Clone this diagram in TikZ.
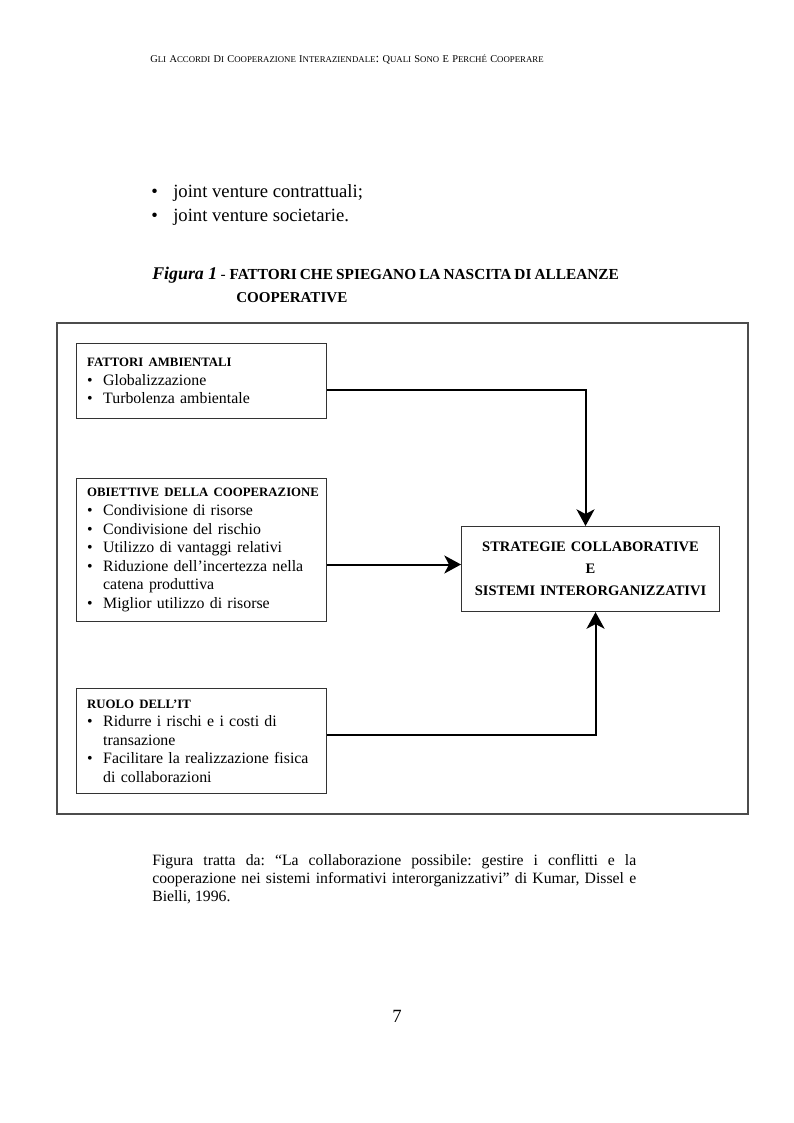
\documentclass[tikz,border=0pt]{standalone}
\usepackage{fontspec}
\setmainfont{Liberation Serif}
\usepackage{tikz}
\usetikzlibrary{positioning,arrows.meta}
\frenchspacing

\newcommand{\voce}[1]{\makebox[12pt][l]{\textbullet}#1}
\newcommand{\segue}[1]{\hspace*{12pt}#1}
\newcommand{\titolo}[1]{\mbox{\fontsize{9.6}{13.9}\selectfont\bfseries #1}}
\newcommand{\pmaiusc}[2]{{\fontsize{7.8}{9}\selectfont #1}{\fontsize{6.6}{9}\selectfont #2}}

\begin{document}
\begin{tikzpicture}[x=0.75pt,y=-0.75pt,
		riquadro/.style={draw=black!80,line width=0.8pt,anchor=north west,inner xsep=8pt,inner ysep=0pt,text width=171.5pt,minimum width=187.5pt,align=left,font=\fontsize{11.9}{13.9}\selectfont},
		centrale/.style={draw=black!80,line width=0.8pt,anchor=north west,inner xsep=4.25pt,inner ysep=0pt,text width=185pt,minimum height=63.75pt,align=center,font=\fontsize{10.9}{16.5}\selectfont\bfseries},
		freccia/.style={line width=1.5pt,-{Stealth[length=12.5pt,width=13.5pt,inset=3.5pt]}}]
			
			\path[use as bounding box,fill=white] (0,0) rectangle (793,1123);
			
			\node[anchor=base,inner sep=0pt] (intestazione) at (347,63)
			{\pmaiusc{G}{LI} \pmaiusc{A}{CCORDI} \pmaiusc{D}{I} \pmaiusc{C}{OOPERAZIONE} \pmaiusc{I}{NTERAZIENDALE}: \pmaiusc{Q}{UALI} \pmaiusc{S}{ONO} \pmaiusc{E}{} \pmaiusc{P}{ERCHÉ} \pmaiusc{C}{OOPERARE}};
			
			\node[anchor=base west,inner sep=0pt,font=\fontsize{14}{18}\selectfont] (punto1) at (151,198) {\makebox[16.5pt][l]{\textbullet}joint venture contrattuali;};
			\node[anchor=base west,inner sep=0pt,font=\fontsize{14}{18}\selectfont] (punto2) at (151,222) {\makebox[16.5pt][l]{\textbullet}joint venture societarie.};
			
			\node[anchor=base west,inner sep=0pt] (didascalia) at (152,279)
			{{\fontsize{13.4}{16}\selectfont\bfseries\itshape Figura 1} {\fontsize{11.5}{13}\selectfont - \bfseries\makebox[292pt][s]{FATTORI CHE SPIEGANO LA NASCITA DI ALLEANZE}}};
			\node[anchor=base west,inner sep=0pt,font=\fontsize{11.3}{13}\selectfont\bfseries] (didascalia2) at (236,302) {COOPERATIVE};
			
			\draw[black!70,line width=0.8pt] (57,323) rectangle (748,814);
			
			\node[riquadro,minimum height=56.25pt] (amb) at (76,343)
			{\titolo{FATTORI AMBIENTALI}\\\voce{Globalizzazione}\\\voce{Turbolenza ambientale}};
			
			\node[riquadro,minimum height=107.25pt] (obi) at (76,478)
			{\titolo{OBIETTIVE DELLA COOPERAZIONE}\\\voce{Condivisione di risorse}\\\voce{Condivisione del rischio}\\\voce{Utilizzo di vantaggi relativi}\\\voce{Riduzione dell’incertezza nella}\\\segue{catena produttiva}\\\voce{Miglior utilizzo di risorse}};
			
			\node[riquadro,minimum height=78.75pt] (it) at (76,688)
			{\titolo{RUOLO DELL’IT}\\\voce{Ridurre i rischi e i costi di}\\\segue{transazione}\\\voce{Facilitare la realizzazione fisica}\\\segue{di collaborazioni}};
			
			\node[centrale] (mid) at (461,526)
			{STRATEGIE COLLABORATIVE\\E\\SISTEMI INTERORGANIZZATIVI};
			
			\draw[freccia] ([yshift=-7pt]amb.east) -| ([xshift=-3.75pt]mid.north);
			\draw[freccia] ([yshift=3.4pt]mid.west -| obi.east) -- ([yshift=3.4pt]mid.west);
			\draw[freccia] ([yshift=4.5pt]it.east) -| ([xshift=3.75pt]mid.south);
			
			\node[anchor=north west,inner sep=0pt,text width=363pt,align=justify,font=\fontsize{11.8}{13.5}\selectfont] (fonte) at (152,854)
			{Figura tratta da: “La collaborazione possibile: gestire i conflitti e la\linebreak cooperazione nei sistemi informativi interorganizzativi” di Kumar, Dissel e\linebreak Bielli, 1996.};
			
			\node[anchor=base,inner sep=0pt,font=\fontsize{14}{18}\selectfont] (pagina) at (397,1022) {7};
			
		\end{tikzpicture}
\end{document}
